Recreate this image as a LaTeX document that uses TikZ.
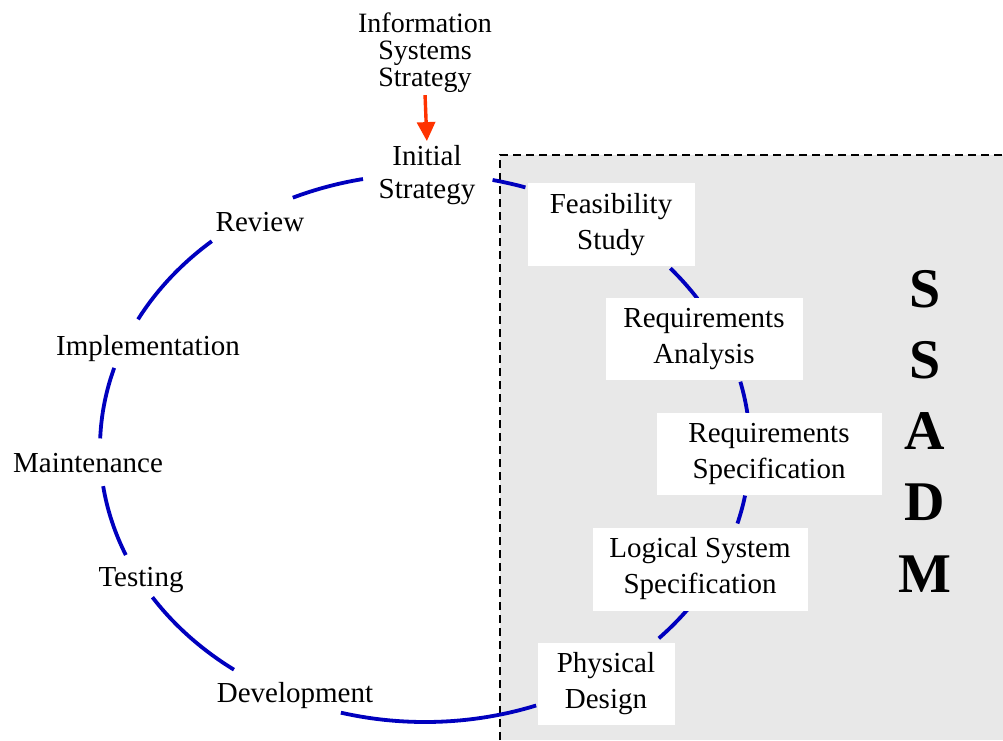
\documentclass[tikz,border=0pt]{standalone}
\usepackage{fontspec}
\setmainfont{Liberation Serif}
\usetikzlibrary{arrows.meta}
\definecolor{cycleblue}{RGB}{0,0,190}
\definecolor{panelgray}{RGB}{232,232,232}
\definecolor{flowred}{RGB}{255,51,0}
\begin{document}
\begin{tikzpicture}[x=1pt,y=1pt,
  lbl/.style={inner sep=1pt, align=center, font=\fontsize{29}{34}\selectfont},
  stagebox/.style={fill=white, inner sep=0pt, align=center, font=\fontsize{29}{36}\selectfont},
  letter/.style={inner sep=0pt, font=\fontsize{56}{60}\selectfont\bfseries},
  cyc/.style={draw=cycleblue, line width=3.8pt},
  feed/.style={draw=flowred, line width=3.4pt, -{Triangle[length=19pt,width=18pt]},
               shorten <=1pt, shorten >=3pt}]
\useasboundingbox (0,0) rectangle (1003,740);

% SSADM panel
\fill[panelgray] (500,0) rectangle (1003,585);
\draw[line width=1.6pt, dash pattern=on 8pt off 5pt] (500,0) |- (1003,585);

% life-cycle ellipse, drawn as segments between the stage labels
\coordinate (C) at (425,292);
\foreach \a/\b in {101/114, 131/152, 163/178, 188/203, 213/234, 255/290,
                   316/324, 344/350, 367/374, 33/41, 72/78}
  \draw[cyc] (C) ++(\a:325pt and 274pt)
    arc[start angle=\a, end angle=\b, x radius=325pt, y radius=274pt];

% strategy input
\node[lbl, font=\fontsize{28}{27}\selectfont] (iss) at (425,687) {Information\\Systems\\Strategy};
\node[lbl, font=\fontsize{29}{33}\selectfont] (init) at (427,565) {Initial\\Strategy};
\draw[feed] (iss.south) -- (init.north);

% stages outside SSADM
\node[lbl] (review) at (260,518) {Review};
\node[lbl] (impl) at (148,391) {Implementation};
\node[lbl] (maint) at (88,277) {Maintenance};
\node[lbl] (test) at (141,160) {Testing};
\node[lbl] (dev) at (295,44) {Development};

% SSADM stages
\node[stagebox, minimum width=167pt, minimum height=83pt] (feas) at (611,515) {Feasibility\\Study};
\node[stagebox, minimum width=197pt, minimum height=82pt] (reqa) at (704,401) {Requirements\\Analysis};
\node[stagebox, minimum width=225pt, minimum height=82pt] (reqs) at (769,286) {Requirements\\Specification};
\node[stagebox, minimum width=215pt, minimum height=83pt] (logi) at (700,171) {Logical System\\Specification};
\node[stagebox, minimum width=137pt, minimum height=82pt] (phys) at (606,56) {Physical\\Design};

% panel title
\node[letter] (l1) at (925,451) {S};
\node[letter] (l2) at (925,380) {S};
\node[letter] (l3) at (925,309) {A};
\node[letter] (l4) at (925,238) {D};
\node[letter] (l5) at (925,166) {M};
\end{tikzpicture}
\end{document}
